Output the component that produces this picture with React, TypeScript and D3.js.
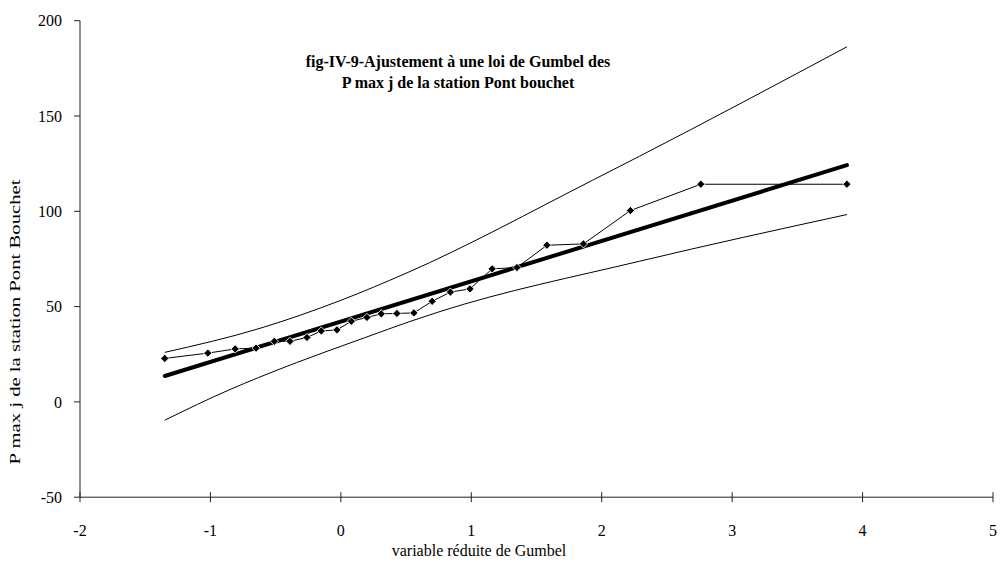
import React from "react";
import * as d3 from "d3";

const gumbelX = [-1.35, -1.02, -0.81, -0.65, -0.51, -0.39, -0.26, -0.15, -0.03, 0.08, 0.2, 0.31, 0.43, 0.56, 0.7, 0.84, 0.99, 1.16, 1.35, 1.58, 1.86, 2.22, 2.76, 3.88];
// Observed P max j
const pmaxObs = [22.8, 25.6, 27.8, 28.2, 31.8, 31.8, 33.8, 37.2, 37.8, 42.3, 44.3, 46.2, 46.4, 46.7, 52.8, 57.6, 59.3, 69.8, 70.5, 82.2, 82.9, 100.4, 114.2, 114.2];

// Fitted Gumbel line
const fitX = [-1.35, 3.88];
const fitY = [13.6, 124.2];

// Upper confidence bound
const upperX = [-1.35, -0.62, 0, 0.5, 1.93, 2.29, 3.88];
const upperY = [26, 38.6, 53.3, 67.5, 116.3, 128.9, 186.3];

// Lower confidence bound
const lowerX = [-1.35, -0.85, -0.63, -0.34, 0.18, 0.53, 0.76, 2.29, 3.88];
const lowerY = [-9.6, 6.5, 12.8, 20.6, 33.6, 42.2, 47.4, 73.8, 98.3];

const xTicks = [-2, -1, 0, 1, 2, 3, 4, 5];
const yTicks = [-50, 0, 50, 100, 150, 200];

const titleLines = ["fig-IV-9-Ajustement à une loi de Gumbel des", "P max j de la station Pont bouchet"];
const xTitle = "variable réduite de Gumbel";
const yTitle = "P max j de la  station Pont Bouchet";

const W = 1003;
const H = 563;
const FONT = "'Liberation Serif', 'Times New Roman', serif";

export default function App() {
  const x = d3.scaleLinear().domain([-2, 5]).range([80, 993]);
  const y = d3.scaleLinear().domain([-50, 200]).range([497.2, 20.7]);

  const pts = (xs: number[], ys: number[]) => xs.map((v, i) => [v, ys[i]] as [number, number]);

  const straight = d3
    .line<[number, number]>()
    .x((d) => x(d[0]))
    .y((d) => y(d[1]));
  const smooth = d3
    .line<[number, number]>()
    .x((d) => x(d[0]))
    .y((d) => y(d[1]))
    .curve(d3.curveMonotoneX);

  const diamond = d3.symbol().type(d3.symbolSquare).size(34)();

  const x0 = x(-2);
  const x1 = x(5);
  const yBase = y(-50);
  const yTop = y(200);

  return (
    <svg
      width={W}
      height={H}
      style={{ position: "absolute", left: 0, top: 0, background: "#fff" }}
      fontFamily={FONT}
    >
      <rect x={0} y={0} width={W} height={H} fill="#fff" />
      {/* Axes */}
      <line x1={x0} x2={x0} y1={yTop} y2={yBase} stroke="#222" strokeWidth={1} />
      <line x1={x0} x2={x1} y1={yBase} y2={yBase} stroke="#222" strokeWidth={1} />
      {yTicks.map((t) => (
        <g key={"y" + t}>
          <line x1={x0 - 6} x2={x0} y1={y(t)} y2={y(t)} stroke="#222" />
          <text x={x0 - 18} y={y(t)} dy="0.35em" textAnchor="end" fontSize={16} fill="#000">
            {t}
          </text>
        </g>
      ))}
      {xTicks.map((t) => (
        <g key={"x" + t}>
          <line x1={x(t)} x2={x(t)} y1={yBase - 5} y2={yBase + 5} stroke="#222" />
          <text x={x(t)} y={yBase + 39} textAnchor="middle" fontSize={16} fill="#000">
            {t}
          </text>
        </g>
      ))}
      <text x={479} y={556} textAnchor="middle" fontSize={16} fill="#000">
        {xTitle}
      </text>
      <text
        transform={`translate(20,322) rotate(-90)`}
        textAnchor="middle"
        fontSize={14}
        textLength={285}
        lengthAdjust="spacingAndGlyphs"
        fill="#000"
      >
        {yTitle}
      </text>

      {/* Title */}
      {titleLines.map((l, i) => (
        <text key={i} x={458} y={66.5 + i * 21.5} textAnchor="middle" fontSize={16} fontWeight="bold" fill="#000">
          {l}
        </text>
      ))}

      {/* Confidence bounds */}
      <path d={smooth(pts(upperX, upperY)) || ""} fill="none" stroke="#000" strokeWidth={1} />
      <path d={smooth(pts(lowerX, lowerY)) || ""} fill="none" stroke="#000" strokeWidth={1} />

      {/* Fitted line */}
      <path d={straight(pts(fitX, fitY)) || ""} fill="none" stroke="#000" strokeWidth={4} strokeLinecap="round" />

      {/* Observations */}
      <path d={straight(pts(gumbelX, pmaxObs)) || ""} fill="none" stroke="#000" strokeWidth={1} />
      {gumbelX.map((v, i) => (
        <path
          key={i}
          d={diamond || ""}
          transform={`translate(${x(v)},${y(pmaxObs[i])}) rotate(45)`}
          fill="#000"
          stroke="#fff"
          strokeWidth={0.8}
        />
      ))}
    </svg>
  );
}
